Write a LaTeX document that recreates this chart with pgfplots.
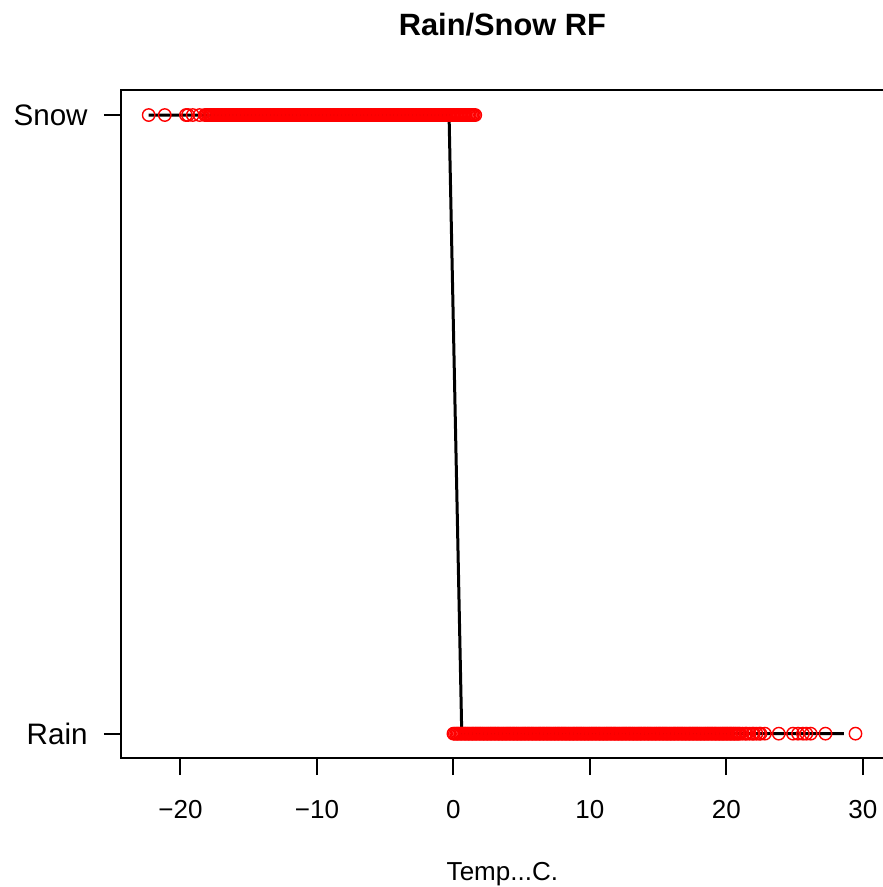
\documentclass[border=0pt]{standalone}
\usepackage{fontspec}
\setmainfont{Liberation Sans}
\usepackage{pgfplots}
\pgfplotsset{compat=1.18}

\begin{document}
\begin{tikzpicture}
\begin{axis}[
    at={(0,0)}, anchor=south west,
    scale only axis, width=381.65pt, height=334.05pt,
    xmin=-24.38, xmax=31.55, ymin=0.96, ymax=2.04,
    axis line style={line width=1pt},
    every tick/.style={black, line width=1pt},
    tick align=outside, major tick length=8.35pt,
    xtick pos=bottom, ytick pos=left,
    xtick={-20,-10,0,10,20,30},
    xticklabels={−20,−10,0,10,20,30},
    ytick={1,2}, yticklabels={Rain,Snow},
    xticklabel style={font=\fontsize{13}{15}\selectfont, anchor=center, inner sep=0pt, yshift=-17.45pt},
    yticklabel style={font=\fontsize{14.8}{17}\selectfont, anchor=east, inner sep=0pt, xshift=-8pt},
    title={Rain/Snow RF},
    title style={font=\bfseries\fontsize{15.4}{18}\selectfont, at={(0.5,1)}, anchor=base, yshift=21.15pt},
    xlabel={Temp...C.},
    xlabel style={font=\fontsize{13}{15}\selectfont, at={(axis description cs:0.5,0)}, anchor=base, yshift=-60.8pt},
]

% snow observations
\addplot[only marks, mark=o, mark size=3.1pt, red, line width=0.7pt] coordinates {
(-22.33,2) (-21.15,2) (-19.6,2) (-19.45,2) (-19.1,2) (-18.6,2)
(-18.2,2) (-18.1,2) (-18.0,2) (-17.9,2) (-17.8,2) (-17.7,2) (-17.6,2) (-17.5,2) (-17.4,2) (-17.3,2)
(-17.2,2) (-17.1,2) (-17.0,2) (-16.9,2) (-16.8,2) (-16.7,2) (-16.6,2) (-16.5,2) (-16.4,2) (-16.3,2)
(-16.2,2) (-16.1,2) (-16.0,2) (-15.9,2) (-15.8,2) (-15.7,2) (-15.6,2) (-15.5,2) (-15.4,2) (-15.3,2)
(-15.2,2) (-15.1,2) (-15.0,2) (-14.9,2) (-14.8,2) (-14.7,2) (-14.6,2) (-14.5,2) (-14.4,2) (-14.3,2)
(-14.2,2) (-14.1,2) (-14.0,2) (-13.9,2) (-13.8,2) (-13.7,2) (-13.6,2) (-13.5,2) (-13.4,2) (-13.3,2)
(-13.2,2) (-13.1,2) (-13.0,2) (-12.9,2) (-12.8,2) (-12.7,2) (-12.6,2) (-12.5,2) (-12.4,2) (-12.3,2)
(-12.2,2) (-12.1,2) (-12.0,2) (-11.9,2) (-11.8,2) (-11.7,2) (-11.6,2) (-11.5,2) (-11.4,2) (-11.3,2)
(-11.2,2) (-11.1,2) (-11.0,2) (-10.9,2) (-10.8,2) (-10.7,2) (-10.6,2) (-10.5,2) (-10.4,2) (-10.3,2)
(-10.2,2) (-10.1,2) (-10.0,2) (-9.9,2) (-9.8,2) (-9.7,2) (-9.6,2) (-9.5,2) (-9.4,2) (-9.3,2)
(-9.2,2) (-9.1,2) (-9.0,2) (-8.9,2) (-8.8,2) (-8.7,2) (-8.6,2) (-8.5,2) (-8.4,2) (-8.3,2)
(-8.2,2) (-8.1,2) (-8.0,2) (-7.9,2) (-7.8,2) (-7.7,2) (-7.6,2) (-7.5,2) (-7.4,2) (-7.3,2)
(-7.2,2) (-7.1,2) (-7.0,2) (-6.9,2) (-6.8,2) (-6.7,2) (-6.6,2) (-6.5,2) (-6.4,2) (-6.3,2)
(-6.2,2) (-6.1,2) (-6.0,2) (-5.9,2) (-5.8,2) (-5.7,2) (-5.6,2) (-5.5,2) (-5.4,2) (-5.3,2)
(-5.2,2) (-5.1,2) (-5.0,2) (-4.9,2) (-4.8,2) (-4.7,2) (-4.6,2) (-4.5,2) (-4.4,2) (-4.3,2)
(-4.2,2) (-4.1,2) (-4.0,2) (-3.9,2) (-3.8,2) (-3.7,2) (-3.6,2) (-3.5,2) (-3.4,2) (-3.3,2)
(-3.2,2) (-3.1,2) (-3.0,2) (-2.9,2) (-2.8,2) (-2.7,2) (-2.6,2) (-2.5,2) (-2.4,2) (-2.3,2)
(-2.2,2) (-2.1,2) (-2.0,2) (-1.9,2) (-1.8,2) (-1.7,2) (-1.6,2) (-1.5,2) (-1.4,2) (-1.3,2)
(-1.2,2) (-1.1,2) (-1.0,2) (-0.9,2) (-0.8,2) (-0.7,2) (-0.6,2) (-0.5,2) (-0.4,2) (-0.3,2)
(-0.2,2) (-0.1,2) (0.0,2) (0.1,2) (0.2,2) (0.3,2) (0.4,2) (0.5,2) (0.6,2) (0.7,2)
(0.8,2) (0.9,2) (1.0,2) (1.1,2) (1.2,2) (1.3,2) (1.4,2) (1.5,2) (1.6,2)
};

% rain observations
\addplot[only marks, mark=o, mark size=3.1pt, red, line width=0.7pt] coordinates {
(0.0,1) (0.1,1) (0.2,1) (0.3,1) (0.4,1) (0.5,1) (0.6,1) (0.7,1) (0.8,1) (0.9,1)
(1.0,1) (1.1,1) (1.2,1) (1.3,1) (1.4,1) (1.5,1) (1.6,1) (1.7,1) (1.8,1) (1.9,1)
(2.0,1) (2.1,1) (2.2,1) (2.3,1) (2.4,1) (2.5,1) (2.6,1) (2.7,1) (2.8,1) (2.9,1)
(3.0,1) (3.1,1) (3.2,1) (3.3,1) (3.4,1) (3.5,1) (3.6,1) (3.7,1) (3.8,1) (3.9,1)
(4.0,1) (4.1,1) (4.2,1) (4.3,1) (4.4,1) (4.5,1) (4.6,1) (4.7,1) (4.8,1) (4.9,1)
(5.0,1) (5.1,1) (5.2,1) (5.3,1) (5.4,1) (5.5,1) (5.6,1) (5.7,1) (5.8,1) (5.9,1)
(6.0,1) (6.1,1) (6.2,1) (6.3,1) (6.4,1) (6.5,1) (6.6,1) (6.7,1) (6.8,1) (6.9,1)
(7.0,1) (7.1,1) (7.2,1) (7.3,1) (7.4,1) (7.5,1) (7.6,1) (7.7,1) (7.8,1) (7.9,1)
(8.0,1) (8.1,1) (8.2,1) (8.3,1) (8.4,1) (8.5,1) (8.6,1) (8.7,1) (8.8,1) (8.9,1)
(9.0,1) (9.1,1) (9.2,1) (9.3,1) (9.4,1) (9.5,1) (9.6,1) (9.7,1) (9.8,1) (9.9,1)
(10.0,1) (10.1,1) (10.2,1) (10.3,1) (10.4,1) (10.5,1) (10.6,1) (10.7,1) (10.8,1) (10.9,1)
(11.0,1) (11.1,1) (11.2,1) (11.3,1) (11.4,1) (11.5,1) (11.6,1) (11.7,1) (11.8,1) (11.9,1)
(12.0,1) (12.1,1) (12.2,1) (12.3,1) (12.4,1) (12.5,1) (12.6,1) (12.7,1) (12.8,1) (12.9,1)
(13.0,1) (13.1,1) (13.2,1) (13.3,1) (13.4,1) (13.5,1) (13.6,1) (13.7,1) (13.8,1) (13.9,1)
(14.0,1) (14.1,1) (14.2,1) (14.3,1) (14.4,1) (14.5,1) (14.6,1) (14.7,1) (14.8,1) (14.9,1)
(15.0,1) (15.1,1) (15.2,1) (15.3,1) (15.4,1) (15.5,1) (15.6,1) (15.7,1) (15.8,1) (15.9,1)
(16.0,1) (16.1,1) (16.2,1) (16.3,1) (16.4,1) (16.5,1) (16.6,1) (16.7,1) (16.8,1) (16.9,1)
(17.0,1) (17.1,1) (17.2,1) (17.3,1) (17.4,1) (17.5,1) (17.6,1) (17.7,1) (17.8,1) (17.9,1)
(18.0,1) (18.1,1) (18.2,1) (18.3,1) (18.4,1) (18.5,1) (18.6,1) (18.7,1) (18.8,1) (18.9,1)
(19.0,1) (19.1,1) (19.2,1) (19.3,1) (19.4,1) (19.5,1) (19.6,1) (19.7,1) (19.8,1) (19.9,1)
(20.0,1) (20.1,1) (20.2,1) (20.3,1) (20.4,1) (20.5,1) (20.6,1) (20.7,1) (20.8,1) (20.9,1)
(21.0,1) (21.2,1) (21.4,1) (21.5,1) (21.7,1) (21.9,1) (22.0,1) (22.2,1) (22.4,1) (22.5,1)
(22.82,1) (23.84,1) (24.88,1) (25.25,1) (25.61,1) (25.86,1) (26.18,1) (27.26,1) (29.46,1)
};

% random forest prediction
\addplot[black, line width=1.5pt] coordinates {
(-22.33,2) (-0.32,2) (0.61,1) (28.6,1)
};

\end{axis}
\pgfresetboundingbox
\useasboundingbox (-60.35pt,-64.3pt) rectangle (380.65pt,379.2pt);
\end{tikzpicture}
\end{document}
